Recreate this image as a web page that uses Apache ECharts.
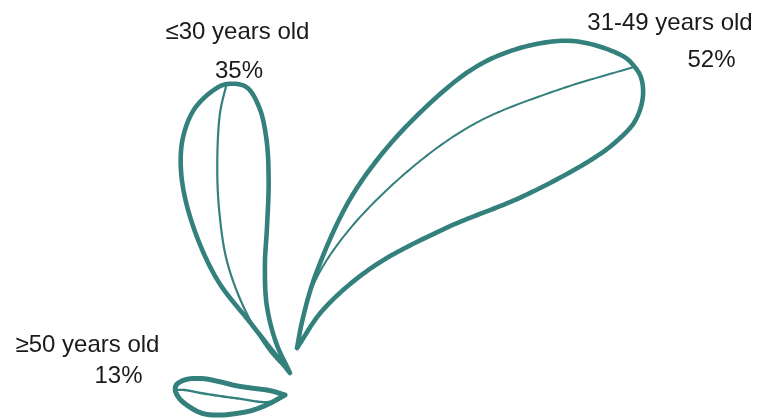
<!DOCTYPE html>
<html>
<head>
<meta charset="utf-8">
<script src="https://cdn.jsdelivr.net/npm/echarts@6/dist/echarts.min.js"></script>
<style>
  html, body { margin: 0; padding: 0; background: #ffffff; }
  #chart { width: 760px; height: 419px; }
</style>
</head>
<body>
<div id="chart"></div>
<script>
// Age groups and their share of respondents (%)
const groups = ['≤30 years old', '31-49 years old', '≥50 years old'];
const shares = [35, 52, 13];

const SCALE_MAX = 60;
const SCALE_RADIUS = 507;

const LEAF_COLOR = '#34807d';
const TEXT_COLOR = '#1a1a1a';
const FONT = '24px "Liberation Sans", Arial, sans-serif';

// Leaf styling per group: stem base (px), heading (deg, counter-clockwise from east),
// label anchors, breadth factor, and outline/midrib profile in leaf-local units
// (s runs base -> tip, t is the sideways offset, both relative to leaf length).
const leafStyle = [
  {
    base: [290, 373], heading: 102.4, breadth: 0.92,
    nameAt: [237.5, 32], valueAt: [239, 71.5],
    edge: 4.6, rib: 2.2,
    sideA: [[0.188,0.099],[0.362,0.188],[0.564,0.233],[0.731,0.234],[0.852,0.200],[0.941,0.135],[0.990,0.050]],
    sideB: [[0.977,-0.068],[0.900,-0.099],[0.790,-0.100],[0.650,-0.075],[0.500,-0.033],[0.374,0.005],[0.240,0.030],[0.110,0.026]],
    midrib: [[0.089,0.057],[0.242,0.112],[0.415,0.138],[0.579,0.127],[0.727,0.100],[0.907,0.047]]
  },
  {
    base: [297, 348], heading: 39.8, breadth: 1.02,
    nameAt: [670, 23], valueAt: [711.5, 60],
    edge: 4.6, rib: 2,
    sideA: [[0.050,0.040],[0.141,0.100],[0.329,0.186],[0.548,0.227],[0.755,0.220],[0.921,0.140],[0.995,0.035]],
    sideB: [[0.995,-0.029],[0.969,-0.065],[0.921,-0.094],[0.858,-0.102],[0.784,-0.097],[0.617,-0.063],[0.431,-0.006],[0.248,0.031],[0.100,0.028]],
    midrib: [[0.115,0.082],[0.251,0.126],[0.459,0.145],[0.641,0.130],[0.826,0.072]]
  },
  {
    base: [285, 395], heading: 177.4, breadth: 1,
    nameAt: [87.5, 345], valueAt: [118.5, 376.5],
    edge: 5, rib: 2.4,
    sideA: [[0.134,0.082],[0.284,0.151],[0.435,0.188],[0.587,0.210],[0.740,0.202],[0.865,0.147],[0.960,0.074]],
    sideB: [[0.990,-0.050],[0.906,-0.100],[0.755,-0.115],[0.601,-0.094],[0.446,-0.064],[0.293,-0.048],[0.139,-0.034]],
    midrib: [[0.134,0.068],[0.441,0.050],[0.749,0.019],[0.918,-0.004]]
  }
];

// Centripetal Catmull-Rom through the given points, sampled into a polyline
function smoothCurve(pts, steps) {
  if (pts.length < 3) return pts.slice();
  const n = pts.length;
  const ext = [
    [2 * pts[0][0] - pts[1][0], 2 * pts[0][1] - pts[1][1]],
    ...pts,
    [2 * pts[n - 1][0] - pts[n - 2][0], 2 * pts[n - 1][1] - pts[n - 2][1]]
  ];
  const knot = (a, b) => Math.max(Math.pow(Math.hypot(b[0] - a[0], b[1] - a[1]), 0.5), 1e-6);
  const lerp = (p, q, w1, w2) => [p[0] * w1 + q[0] * w2, p[1] * w1 + q[1] * w2];
  const out = [pts[0]];
  for (let i = 1; i < ext.length - 2; i++) {
    const P0 = ext[i - 1], P1 = ext[i], P2 = ext[i + 1], P3 = ext[i + 2];
    const t0 = 0, t1 = t0 + knot(P0, P1), t2 = t1 + knot(P1, P2), t3 = t2 + knot(P2, P3);
    for (let k = 1; k <= steps; k++) {
      const t = t1 + (t2 - t1) * k / steps;
      const A1 = lerp(P0, P1, (t1 - t) / (t1 - t0), (t - t0) / (t1 - t0));
      const A2 = lerp(P1, P2, (t2 - t) / (t2 - t1), (t - t1) / (t2 - t1));
      const A3 = lerp(P2, P3, (t3 - t) / (t3 - t2), (t - t2) / (t3 - t2));
      const B1 = lerp(A1, A2, (t2 - t) / (t2 - t0), (t - t0) / (t2 - t0));
      const B2 = lerp(A2, A3, (t3 - t) / (t3 - t1), (t - t1) / (t3 - t1));
      out.push(lerp(B1, B2, (t2 - t) / (t2 - t1), (t - t1) / (t2 - t1)));
    }
  }
  return out;
}

// Draws one leaf from the stem base to the tip located by the polar scale
function leafRenderer(style) {
  return function (params, api) {
    const value = api.value(0);
    const heading = api.value(1);
    const base = api.coord([0, heading]);
    const tip = api.coord([value, heading]);
    const dx = tip[0] - base[0], dy = tip[1] - base[1];
    const len = Math.hypot(dx, dy);
    const ux = dx / len, uy = dy / len;
    const vx = uy, vy = -ux;
    const w = style.breadth;
    const toPx = (p) => [
      base[0] + len * (p[0] * ux + p[1] * w * vx),
      base[1] + len * (p[0] * uy + p[1] * w * vy)
    ];
    const outline = [[0, 0], ...style.sideA, [1, 0], ...style.sideB, [0, 0]].map(toPx);
    const rib = [[0, 0], ...style.midrib, [1, 0]].map(toPx);
    return {
      type: 'group',
      children: [
        {
          type: 'polyline',
          shape: { points: smoothCurve(rib, 24) },
          style: { fill: null, stroke: LEAF_COLOR, lineWidth: style.rib, lineCap: 'round', lineJoin: 'round' }
        },
        {
          type: 'polyline',
          shape: { points: smoothCurve(outline, 24) },
          style: { fill: null, stroke: LEAF_COLOR, lineWidth: style.edge, lineCap: 'round', lineJoin: 'round' }
        }
      ]
    };
  };
}

const chart = echarts.init(document.getElementById('chart'), null, { renderer: 'canvas' });

const hiddenAxis = {
  show: false,
  axisLine: { show: false },
  axisTick: { show: false },
  axisLabel: { show: false },
  splitLine: { show: false },
  splitArea: { show: false }
};

const labelElements = [];
groups.forEach((g, i) => {
  const st = leafStyle[i];
  labelElements.push({
    type: 'text', x: st.nameAt[0], y: st.nameAt[1], silent: true,
    style: { text: g, font: FONT, fill: TEXT_COLOR, align: 'center', verticalAlign: 'middle', textAlign: 'center', textVerticalAlign: 'middle' }
  });
  labelElements.push({
    type: 'text', x: st.valueAt[0], y: st.valueAt[1], silent: true,
    style: { text: shares[i] + '%', font: FONT, fill: TEXT_COLOR, align: 'center', verticalAlign: 'middle', textAlign: 'center', textVerticalAlign: 'middle' }
  });
});

chart.setOption({
  backgroundColor: '#ffffff',
  animation: false,
  polar: leafStyle.map(st => ({ center: st.base, radius: SCALE_RADIUS })),
  angleAxis: leafStyle.map((st, i) => Object.assign({
    polarIndex: i, type: 'value', min: 0, max: 360, startAngle: 0, clockwise: false
  }, hiddenAxis)),
  radiusAxis: leafStyle.map((st, i) => Object.assign({
    polarIndex: i, type: 'value', min: 0, max: SCALE_MAX
  }, hiddenAxis)),
  series: shares.map((v, i) => ({
    name: groups[i],
    type: 'custom',
    coordinateSystem: 'polar',
    polarIndex: i,
    silent: true,
    clip: false,
    data: [[v, leafStyle[i].heading]],
    renderItem: leafRenderer(leafStyle[i])
  })),
  graphic: labelElements
});
</script>
</body>
</html>
